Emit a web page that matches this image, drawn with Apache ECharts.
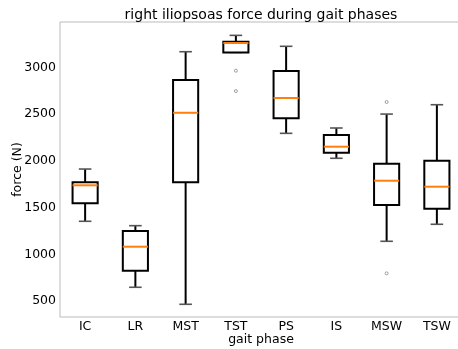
<!DOCTYPE html>
<html>
<head>
<meta charset="utf-8">
<script src="https://cdn.jsdelivr.net/npm/echarts@6/dist/echarts.min.js"></script>
<style>html,body{margin:0;padding:0;background:#fff;}#c{width:458px;height:349px;}</style>
</head>
<body>
<div id="c"></div>
<script>
var categories = ['IC', 'LR', 'MST', 'TST', 'PS', 'IS', 'MSW', 'TSW'];
var whiskerLow = [1353, 647, 465, 3160, 2294, 2027, 1139, 1321];
var q1 = [1545, 824, 1770, 3160, 2454, 2086, 1527, 1487];
var median = [1738, 1081, 2514, 3260, 2672, 2151, 1787, 1723];
var q3 = [1770, 1249, 2864, 3274, 2960, 2276, 1969, 2001];
var whiskerHigh = [1912, 1306, 3167, 3342, 3225, 2351, 2500, 2600];
var outlierCats = ['TST', 'TST', 'MSW', 'MSW'];
var outlierVals = [2964, 2746, 2629, 796];
var yTicks = [500, 1000, 1500, 2000, 2500, 3000];

var FONT = 'DejaVu Sans';
var boxData = categories.map(function (c, i) {
  return [i, whiskerLow[i], q1[i], median[i], q3[i], whiskerHigh[i]];
});
var outlierData = outlierCats.map(function (c, i) {
  return [categories.indexOf(c), outlierVals[i]];
});

function renderBox(params, api) {
  var x = api.value(0);
  var band = api.size([1, 0])[0];
  var half = band * 0.25;
  var capHalf = band * 0.125;
  var pLow = api.coord([x, api.value(1)]);
  var pQ1 = api.coord([x, api.value(2)]);
  var pMed = api.coord([x, api.value(3)]);
  var pQ3 = api.coord([x, api.value(4)]);
  var pHigh = api.coord([x, api.value(5)]);
  var cx = pMed[0];
  var black = { stroke: '#000', lineWidth: 2, fill: null };
  var cap = { stroke: '#555', lineWidth: 1.6, fill: null };
  return {
    type: 'group',
    children: [
      { type: 'line', shape: { x1: cx, y1: pQ1[1], x2: cx, y2: pLow[1] }, style: black },
      { type: 'line', shape: { x1: cx, y1: pQ3[1], x2: cx, y2: pHigh[1] }, style: black },
      { type: 'line', shape: { x1: cx - capHalf, y1: pLow[1], x2: cx + capHalf, y2: pLow[1] }, style: cap },
      { type: 'line', shape: { x1: cx - capHalf, y1: pHigh[1], x2: cx + capHalf, y2: pHigh[1] }, style: cap },
      { type: 'rect', shape: { x: cx - half, y: pQ3[1], width: half * 2, height: pQ1[1] - pQ3[1] }, style: { stroke: '#000', lineWidth: 2, fill: '#fff' } },
      { type: 'line', shape: { x1: cx - half, y1: pMed[1], x2: cx + half, y2: pMed[1] }, style: { stroke: '#ff7f0e', lineWidth: 2 } }
    ]
  };
}

var chart = echarts.init(document.getElementById('c'), null, { renderer: 'canvas' });
chart.setOption({
  animation: false,
  backgroundColor: '#fff',
  title: {
    text: 'right iliopsoas force during gait phases',
    left: 256,
    textAlign: 'center',
    top: 3,
    textStyle: { fontFamily: FONT, fontSize: 14, fontWeight: 'normal', color: '#000' }
  },
  grid: {
    left: 60, right: -4, top: 22, bottom: 32,
    containLabel: false,
    outerBoundsMode: 'none',
    show: true, borderColor: '#bbbbbb', borderWidth: 1, backgroundColor: 'transparent'
  },
  xAxis: {
    type: 'category',
    data: categories,
    boundaryGap: true,
    axisLine: { show: false },
    axisTick: { show: false },
    splitLine: { show: false },
    axisLabel: { fontFamily: FONT, fontSize: 12.5, color: '#000', margin: 3 },
    name: 'gait phase',
    nameLocation: 'middle',
    nameGap: 16,
    nameMoveOverlap: false,
    nameTextStyle: { fontFamily: FONT, fontSize: 12.5, color: '#000' }
  },
  yAxis: {
    type: 'value',
    min: 329,
    max: 3485,
    axisLine: { show: false },
    axisTick: { show: false },
    splitLine: { show: false },
    axisLabel: {
      fontFamily: FONT, fontSize: 12.5, color: '#000', margin: 4, customValues: yTicks,
      formatter: function (v) { return String(v); }
    },
    name: 'force (N)',
    nameLocation: 'middle',
    nameGap: 36,
    nameMoveOverlap: false,
    nameRotate: 90,
    nameTextStyle: { fontFamily: FONT, fontSize: 12.5, color: '#000' }
  },
  series: [
    {
      type: 'custom',
      renderItem: renderBox,
      data: boxData,
      encode: { x: 0, y: [1, 2, 3, 4, 5] },
      z: 2
    },
    {
      type: 'scatter',
      data: outlierData,
      symbol: 'circle',
      symbolSize: 3,
      itemStyle: { color: '#fff', borderColor: '#888', borderWidth: 1 },
      z: 3
    }
  ]
});
</script>
</body>
</html>
